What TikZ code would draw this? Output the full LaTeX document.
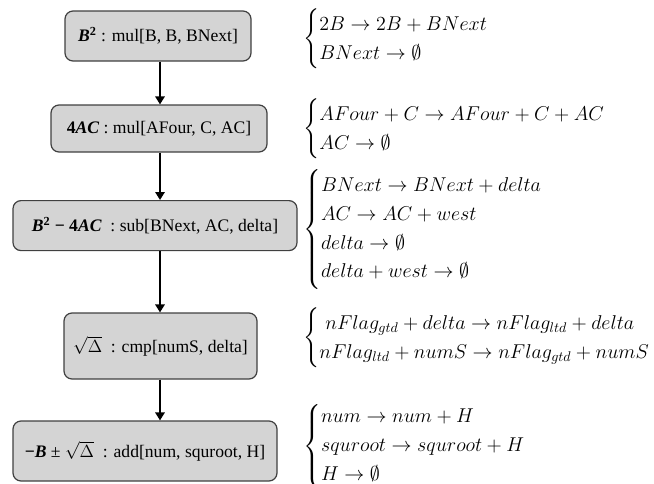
\RequirePackage{fix-cm}
\documentclass[tikz,border=0pt]{standalone}
\usepackage{amsmath,amssymb}
\usepackage[no-math]{fontspec}
\newfontfamily\boxfont{Liberation Serif}
\usetikzlibrary{arrows.meta}

\begin{document}
\begin{tikzpicture}[x=0.75pt,y=-0.75pt,
  opbox/.style={draw=black!75,fill=black!17,line width=0.9pt,rounded corners=6pt,
    inner sep=0pt,align=center,font=\boxfont\fontsize{13.2}{15}\selectfont},
  flow/.style={-{Triangle[length=6pt,width=7pt]},line width=2.2pt},
  rules/.style={anchor=west,inner sep=0pt,font=\fontsize{15}{18}\selectfont}]
  \useasboundingbox (0,0) rectangle (654,483);

  % Operation boxes
  \node[opbox,minimum width=139.5pt,minimum height=37.5pt] (b1) at (158,36)
    {\textbf{\textit{B}}\textsuperscript{\textbf{2}} : mul[B, B, BNext]};
  \node[opbox,minimum width=162pt,minimum height=35.25pt] (b2) at (159,128.5)
    {\textbf{4\textit{AC}} : mul[AFour, C, AC]};
  \node[opbox,minimum width=213pt,minimum height=37.5pt] (b3) at (155,225.6)
    {\textbf{\textit{B}}\textsuperscript{\textbf{2}} \textbf{− 4\textit{AC}} \ : sub[BNext, AC, delta]};
  \node[opbox,minimum width=144.75pt,minimum height=49.5pt] (b4) at (160.5,346)
    {$\sqrt{\Delta}$ \ : cmp[numS, delta]};
  \node[opbox,minimum width=198pt,minimum height=45pt] (b5) at (145,451)
    {\textbf{−\textit{B}} ± $\sqrt{\Delta}$ \ : add[num, squroot, H]};

  % Flow between boxes
  \coordinate (spine) at (160,0);
  \draw[flow] (b1.south -| spine) -- (b2.north -| spine);
  \draw[flow] (b2.south -| spine) -- (b3.north -| spine);
  \draw[flow] (b3.south -| spine) -- (b4.north -| spine);
  \draw[flow] (b4.south -| spine) -- (b5.north -| spine);

  % Reaction rules
  \node[rules] (r1) at (303,39) {$\begin{cases}
      2B \to 2B + BNext\\
      BNext \to \emptyset
    \end{cases}$};
  \node[rules] (r2) at (303,129) {$\begin{cases}
      AFour + C \to AFour + C + AC\\
      AC \to \emptyset
    \end{cases}$};
  \node[rules] (r3) at (303,229) {$\begin{cases}
      BNext \to BNext + delta\\
      AC \to AC + west\\
      delta \to \emptyset\\
      delta + west \to \emptyset
    \end{cases}$};
  \node[rules] (r4) at (303,338) {$\begin{cases}
      \ nFlag_{gtd} + delta \to nFlag_{ltd} + delta\\
      nFlag_{ltd} + numS \to nFlag_{gtd} + numS
    \end{cases}$};
  \node[rules] (r5) at (303,446) {$\begin{cases}
      num \to num + H\\
      squroot \to squroot + H\\
      H \to \emptyset
    \end{cases}$};
\end{tikzpicture}
\end{document}
